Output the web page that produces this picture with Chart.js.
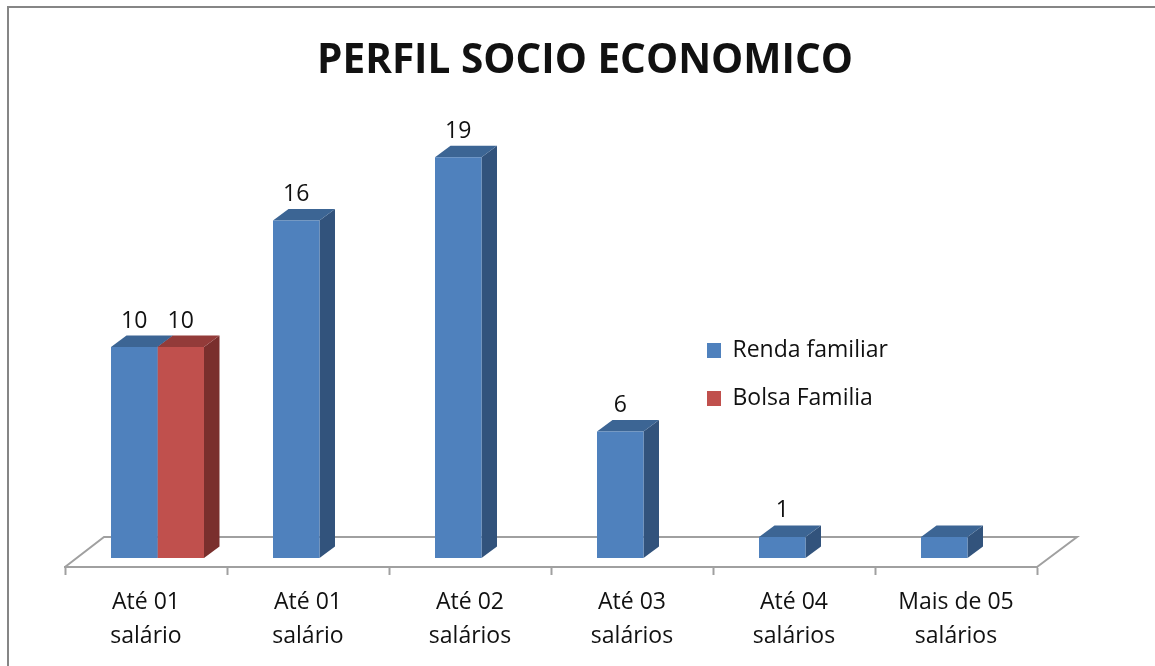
<!DOCTYPE html>
<html lang="pt">
<head>
<meta charset="utf-8">
<title>Perfil socio economico</title>
<script src="https://cdn.jsdelivr.net/npm/chart.js@4"></script>
<style>
    html, body { margin: 0; padding: 0; background: #fff; overflow: hidden; }
    #wrap { position: relative; width: 1155px; height: 666px; }
</style>
</head>
<body>
<div id="wrap"><canvas id="perfilChart"></canvas></div>
<script>
// dados do grafico
const categorias = [['Até 01', 'salário'], ['Até 01', 'salário'], ['Até 02', 'salários'], ['Até 03', 'salários'], ['Até 04', 'salários'], ['Mais de 05', 'salários']];
const rendaFamiliar = [10, 16, 19, 6, 1, 1];
const bolsaFamilia = [10, null, null, null, null, null];
// a ultima barra nao tem rotulo no original
const rotulosRenda = ['10', '16', '19', '6', '1', ''];
const rotulosBolsa = ['10', '', '', '', '', ''];

const FONTE = '"Open Sans", Lato, sans-serif';
const COR_TEXTO = '#111';
const COR_EIXO = '#a0a0a0';
const DX = 15.5, DY = -11.5;     // profundidade das barras
const DESLOC = 11.5;             // barras ficam no meio do piso
const faces = {
    '#4F81BD': { topo: '#3C6594', lado: '#32537C' },
    '#C0504D': { topo: '#933B39', lado: '#7A2F2D' }
};

function poligono(ctx, pontos, cor) {
    ctx.fillStyle = cor;
    ctx.beginPath();
    pontos.forEach((p, i) => i ? ctx.lineTo(p[0], p[1]) : ctx.moveTo(p[0], p[1]));
    ctx.closePath();
    ctx.fill();
}

const moldura = {
    id: 'moldura',
    beforeDraw(chart) {
        const ctx = chart.ctx;
        ctx.save();
        ctx.strokeStyle = '#868686';
        ctx.lineWidth = 2;
        ctx.beginPath();
        ctx.moveTo(8, 666);
        ctx.lineTo(8, 7);
        ctx.lineTo(1155, 7);
        ctx.stroke();
        ctx.restore();
    }
};

// piso e faces 3D das barras
const barras3d = {
    id: 'barras3d',
    beforeDatasetsDraw(chart) {
        const ctx = chart.ctx;
        const a = chart.chartArea;
        ctx.save();
        ctx.strokeStyle = COR_EIXO;
        ctx.lineWidth = 2;
        ctx.beginPath();
        ctx.moveTo(a.left, a.bottom);
        ctx.lineTo(a.left + 39, a.bottom - 30);
        ctx.lineTo(a.right + 40, a.bottom - 30);
        ctx.lineTo(a.right, a.bottom);
        ctx.stroke();
        ctx.translate(DESLOC, 0);
        chart.data.datasets.forEach((ds, i) => {
            const cores = faces[ds.backgroundColor];
            chart.getDatasetMeta(i).data.forEach((bar, j) => {
                if (ds.data[j] === null) return;
                const esq = bar.x - bar.width / 2, dir = bar.x + bar.width / 2;
                poligono(ctx, [[dir, bar.y], [dir + DX, bar.y + DY], [dir + DX, bar.base + DY], [dir, bar.base]], cores.lado);
                poligono(ctx, [[esq, bar.y], [esq + DX, bar.y + DY], [dir + DX, bar.y + DY], [dir, bar.y]], cores.topo);
            });
        });
    },
    afterDatasetsDraw(chart) {
        const ctx = chart.ctx;
        ctx.restore();
        // rotulos de valor
        ctx.save();
        ctx.font = '23px ' + FONTE;
        ctx.fillStyle = COR_TEXTO;
        ctx.textAlign = 'center';
        ctx.textBaseline = 'middle';
        const rotulos = [rotulosRenda, rotulosBolsa];
        chart.data.datasets.forEach((ds, i) => {
            chart.getDatasetMeta(i).data.forEach((bar, j) => {
                if (!rotulos[i][j]) return;
                ctx.fillText(rotulos[i][j], bar.x + DESLOC, bar.y - 26);
            });
        });
        ctx.restore();
    }
};

// legenda fica dentro da area do grafico, titulo centrado na moldura
const posicaoCaixas = {
    id: 'posicaoCaixas',
    afterLayout(chart) {
        const leg = chart.legend;
        const w = leg.width, h = leg.height;
        leg.left = 682;
        leg.top = 314;
        leg.right = leg.left + w;
        leg.bottom = leg.top + h;
        chart.titleBlock.left += 34;
        chart.titleBlock.right += 34;
    }
};

new Chart(document.getElementById('perfilChart'), {
    type: 'bar',
    data: {
        labels: categorias,
        datasets: [
            { label: 'Renda familiar', data: rendaFamiliar, backgroundColor: '#4F81BD' },
            { label: 'Bolsa Familia', data: bolsaFamilia, backgroundColor: '#C0504D' }
        ]
    },
    options: {
        responsive: true,
        maintainAspectRatio: false,
        animation: false,
        categoryPercentage: 0.574,
        barPercentage: 1,
        layout: { padding: { left: 65, right: 118, top: 0, bottom: 0 } },
        plugins: {
            title: {
                display: true,
                text: 'PERFIL SOCIO ECONOMICO',
                color: COR_TEXTO,
                font: { family: FONTE, size: 40.5, weight: 'bold', lineHeight: 1.2 },
                padding: { top: 37.5, bottom: 50 }
            },
            legend: {
                position: 'chartArea',
                align: 'start',
                labels: {
                    boxWidth: 14,
                    boxHeight: 15,
                    padding: 25,
                    color: COR_TEXTO,
                    font: { family: FONTE, size: 23 }
                }
            },
            tooltip: { enabled: false }
        },
        scales: {
            x: {
                grid: { display: true, drawOnChartArea: false, drawTicks: true, tickLength: 8, tickColor: COR_EIXO, tickWidth: 2, offset: true },
                border: { display: true, color: COR_EIXO, width: 2 },
                ticks: {
                    color: COR_TEXTO,
                    padding: 10,
                    maxRotation: 0,
                    autoSkip: false,
                    font: { family: FONTE, size: 23, lineHeight: 1.5 }
                },
                afterFit(scale) { scale.height = 99; }
            },
            y: { display: false, min: -0.427, max: 20 }
        }
    },
    plugins: [moldura, barras3d, posicaoCaixas]
});
</script>
</body>
</html>
